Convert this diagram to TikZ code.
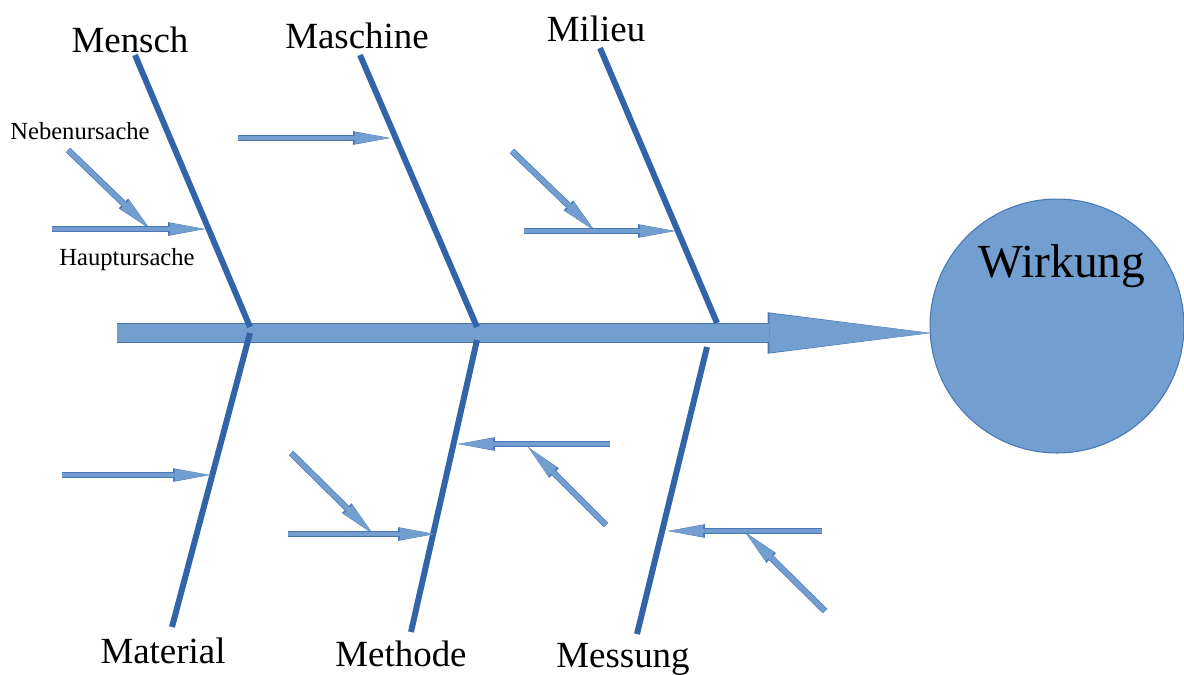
\documentclass[tikz,border=0pt]{standalone}
\usepackage{fontspec}
\setmainfont{Liberation Serif}
\usetikzlibrary{arrows.meta}
\definecolor{boneblue}{HTML}{3363A8}
\definecolor{lightblue}{HTML}{729FCF}
\definecolor{edgeblue}{HTML}{4A77B4}
\tikzset{
  bone/.style={draw=boneblue, line width=3.4pt},
  cause/.style={draw=lightblue, line width=2.8pt,
    -{Triangle[length=20pt,width=6.8pt,line width=0pt]},
    preaction={draw=edgeblue, line width=3.6pt, -{Triangle[length=21pt,width=7.8pt,line width=0pt]}}},
  spine/.style={draw=lightblue, line width=10.4pt,
    -{Triangle[length=92pt,width=22.4pt,line width=0pt]},
    preaction={draw=edgeblue, line width=11.2pt, -{Triangle[length=93pt,width=23.6pt,line width=0pt]}}},
  biglabel/.style={anchor=base, font=\fontsize{21}{25}\selectfont},
  smalllabel/.style={anchor=base, font=\fontsize{14}{17}\selectfont}
}
\begin{document}
\begin{tikzpicture}[x=0.02cm, y=-0.02cm]
    \useasboundingbox (0,0) rectangle (1184,674);
    % effect
    \node[circle, fill=lightblue, draw=edgeblue, line width=0.6pt, minimum size=5.08cm, inner sep=0pt] (wirkung) at (1057,326) {};
    \node[anchor=base, font=\fontsize{27}{32}\selectfont] (wirkungText) at (1062,277) {Wirkung};
    % main spine
    \coordinate (spineStart) at (117,333);
    \coordinate (spineEnd) at (931,333);
    \draw[spine] (spineStart) -- (spineEnd);
    % category labels
    \node[biglabel] (mensch) at (130,52) {Mensch};
    \node[biglabel] (maschine) at (357,48) {Maschine};
    \node[biglabel] (milieu) at (596,41) {Milieu};
    \node[biglabel] (material) at (163,663) {Material};
    \node[biglabel] (methode) at (401,666) {Methode};
    \node[biglabel] (messung) at (623,667) {Messung};
    % bones
    \coordinate (menschTop) at (135,55);   \coordinate (menschFoot) at (250,327);
    \coordinate (maschineTop) at (360,55); \coordinate (maschineFoot) at (477,327);
    \coordinate (milieuTop) at (600,48);   \coordinate (milieuFoot) at (717,323);
    \coordinate (materialFoot) at (250,333); \coordinate (materialEnd) at (172,627);
    \coordinate (methodeFoot) at (477,340);  \coordinate (methodeEnd) at (411,632);
    \coordinate (messungFoot) at (707,347);  \coordinate (messungEnd) at (637,634);
    \draw[bone] (menschTop) -- (menschFoot);
    \draw[bone] (maschineTop) -- (maschineFoot);
    \draw[bone] (milieuTop) -- (milieuFoot);
    \draw[bone] (materialFoot) -- (materialEnd);
    \draw[bone] (methodeFoot) -- (methodeEnd);
    \draw[bone] (messungFoot) -- (messungEnd);
    % causes
    \node[smalllabel] (neben) at (80,139) {Nebenursache};
    \node[smalllabel] (haupt) at (127,265) {Hauptursache};
    \coordinate (h1a) at (52,229);  \coordinate (h1b) at (205,229);
    \coordinate (n1a) at (68,150);  \coordinate (n1b) at (150,229);
    \coordinate (h2a) at (238,138); \coordinate (h2b) at (390,138);
    \coordinate (h3a) at (524,231); \coordinate (h3b) at (675,231);
    \coordinate (n3a) at (512,151); \coordinate (n3b) at (595,231);
    \coordinate (h4a) at (62,475);  \coordinate (h4b) at (210,475);
    \coordinate (h5a) at (288,534); \coordinate (h5b) at (435,534);
    \coordinate (n5a) at (291,453); \coordinate (n5b) at (373,534);
    \coordinate (h6a) at (610,444); \coordinate (h6b) at (458,444);
    \coordinate (n6a) at (606,525); \coordinate (n6b) at (528,447);
    \coordinate (h7a) at (822,531); \coordinate (h7b) at (668,531);
    \coordinate (n7a) at (825,611); \coordinate (n7b) at (745,532);
    \foreach \c in {1,3,5,6,7} {
        \draw[cause] (n\c a) -- (n\c b);
    }
    \foreach \c in {1,...,7} {
        \draw[cause] (h\c a) -- (h\c b);
    }
\end{tikzpicture}
\end{document}
